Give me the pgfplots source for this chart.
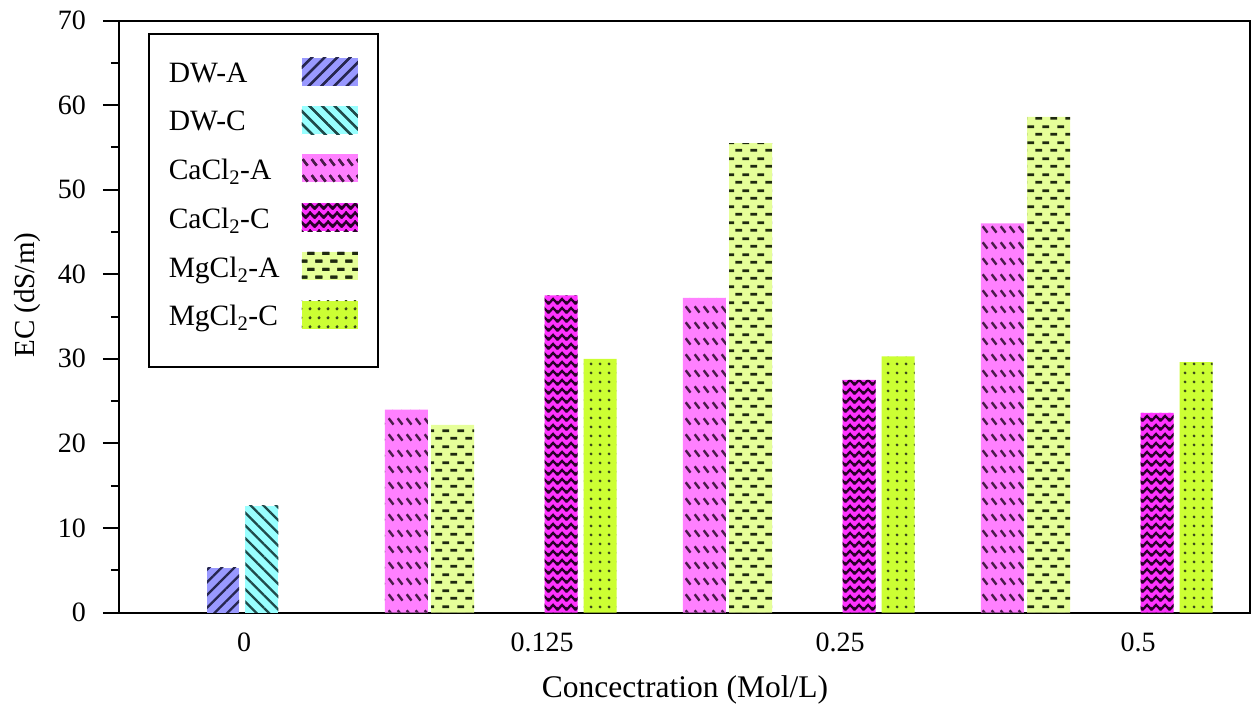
\documentclass[border=0pt]{standalone}
\usepackage{fontspec}
\setmainfont{Liberation Serif}
\usepackage{pgfplots}
\pgfplotsset{compat=1.18}
\usetikzlibrary{patterns,patterns.meta}

% fill colours and pattern ink
\definecolor{dwAfill}{HTML}{9999FF}
\definecolor{dwCfill}{HTML}{99FFFF}
\definecolor{caAfill}{HTML}{FF80FF}
\definecolor{caCfill}{HTML}{FF33FF}
\definecolor{mgAfill}{HTML}{E6FF99}
\definecolor{mgCfill}{HTML}{CCFF33}
\definecolor{dwAink}{HTML}{262650}
\definecolor{dwCink}{HTML}{1F4A4A}
\definecolor{caAink}{HTML}{4A1A4A}
\definecolor{caCink}{HTML}{2A002A}
\definecolor{mgAink}{HTML}{1F2A10}
\definecolor{mgCink}{HTML}{3A4A1A}

% rows of short back-slanted dashes
\tikzdeclarepattern{
  name=slashrows, type=uncolored,
  bottom left={(0pt,0pt)}, top right={(8.6pt,15.5pt)},
  tile size={(8.6pt,15.5pt)},
  code={\draw[line width=2.5pt] (1.8pt,11pt) -- (6.8pt,4.5pt);}
}
% horizontal zigzag lines
\tikzdeclarepattern{
  name=zigzag, type=uncolored,
  bottom left={(0pt,0pt)}, top right={(9pt,8.5pt)},
  tile size={(9pt,8.5pt)},
  code={\draw[line width=2.5pt] (-4.5pt,6.4pt) -- (0pt,1.8pt) -- (4.5pt,6.4pt) -- (9pt,1.8pt) -- (13.5pt,6.4pt);}
}
% staggered horizontal dashes
\tikzdeclarepattern{
  name=brickdash, type=uncolored,
  bottom left={(0pt,0pt)}, top right={(15pt,16pt)},
  tile size={(15pt,16pt)},
  code={\draw[line width=3pt] (0.3pt,4pt) -- (7.7pt,4pt);
        \draw[line width=3pt] (7.8pt,12pt) -- (15pt,12pt);}
}
% grid of dots
\tikzdeclarepattern{
  name=dotgrid, type=uncolored,
  bottom left={(0pt,0pt)}, top right={(8.5pt,8.5pt)},
  tile size={(8.5pt,8.5pt)},
  code={\fill (4.25pt,4.25pt) circle (1.6pt);}
}

\tikzset{
  dwA/.style={fill=dwAfill, draw=none, postaction={pattern={Lines[angle=45,distance=9pt,line width=2.3pt]}, pattern color=dwAink}},
  dwC/.style={fill=dwCfill, draw=none, postaction={pattern={Lines[angle=-45,distance=9pt,line width=2.3pt]}, pattern color=dwCink}},
  caA/.style={fill=caAfill, draw=none, postaction={pattern=slashrows, pattern color=caAink}},
  caC/.style={fill=caCfill, draw=none, postaction={pattern=zigzag, pattern color=caCink}},
  mgA/.style={fill=mgAfill, draw=none, postaction={pattern=brickdash, pattern color=mgAink}},
  mgC/.style={fill=mgCfill, draw=none, postaction={pattern=dotgrid, pattern color=mgCink}},
}

\pgfplotsset{
  bars/.style n args={2}{ybar, bar shift=0pt, bar width=#2, #1,
    legend image code/.code={\path[#1] (0pt,-4.5pt) rectangle (56pt,23.5pt);}},
}

\newcommand{\lgd}[1]{\makebox[133pt][l]{#1}}

\begin{document}
\begin{tikzpicture}
\begin{axis}[
  scale only axis, width=1131pt, height=592pt,
  at={(0pt,0pt)}, anchor=south west,
  xmin=-0.4195, xmax=3.3758, ymin=0, ymax=70,
  axis line style={line width=2pt},
  xtick={0,1,2,3}, xticklabels={0,0.125,0.25,0.5},
  xtick style={draw=none},
  ytick={0,10,...,70}, minor y tick num=1,
  tick align=outside, ytick pos=left,
  major tick length=16pt, minor tick length=8pt,
  every tick/.append style={black, line width=2pt},
  /pgf/number format/assume math mode=true,
  tick label style={font=\fontsize{28}{33}\selectfont, inner sep=0pt},
  yticklabel style={xshift=-17pt},
  xticklabel style={yshift=-4pt},
  xlabel={Concectration (Mol/L)}, ylabel={EC (dS/m)},
  xlabel style={font=\fontsize{31.5}{37}\selectfont, at={(axis description cs:0.5004,-0.131)}, anchor=center},
  ylabel style={font=\fontsize{29}{34}\selectfont, at={(axis description cs:-0.0813,0.536)}, anchor=center},
  legend plot pos=right,
  legend style={at={(axis description cs:0.0256,0.9789)}, anchor=north west,
    draw=black, line width=1.6pt, fill=white,
    inner xsep=20pt, inner ysep=24pt, row sep=6.5pt,
    font=\fontsize{29.5}{34}\selectfont,
    cells={anchor=west},
    nodes={inner sep=0pt, text depth=17pt}},
]
\addplot[bars={dwA}{0.107}] coordinates {(-0.07,5.3)};
\addlegendentry{\lgd{DW-A}}
\addplot[bars={dwC}{0.111}] coordinates {(0.06,12.6)};
\addlegendentry{\lgd{DW-C}}
\addplot[bars={caA}{0.144}] coordinates {(0.545,24.0) (1.545,37.2) (2.545,46.0)};
\addlegendentry{\lgd{CaCl\textsubscript{2}-A}}
\addplot[bars={caC}{0.111}] coordinates {(1.064,37.5) (2.064,27.5) (3.064,23.6)};
\addlegendentry{\lgd{CaCl\textsubscript{2}-C}}
\addplot[bars={mgA}{0.144}] coordinates {(0.70,22.2) (1.70,55.5) (2.70,58.6)};
\addlegendentry{\lgd{MgCl\textsubscript{2}-A}}
\addplot[bars={mgC}{0.111}] coordinates {(1.195,30.0) (2.195,30.3) (3.195,29.6)};
\addlegendentry{\lgd{MgCl\textsubscript{2}-C}}
% heavier left spine
\draw[line width=3pt] (rel axis cs:0,0) -- (rel axis cs:0,1);
\end{axis}
\pgfresetboundingbox
\path[use as bounding box] (-119pt,-100.5pt) rectangle (1135pt,612.5pt);
\end{tikzpicture}
\end{document}
